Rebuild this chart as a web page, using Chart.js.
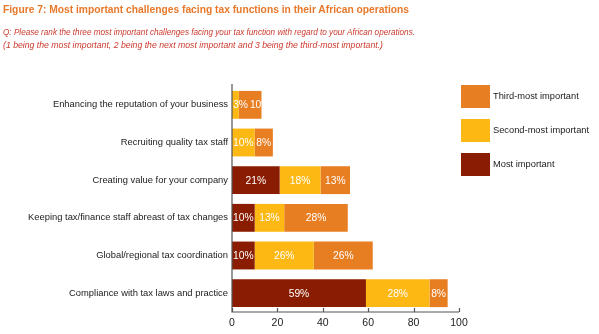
<!DOCTYPE html>
<html><head><meta charset="utf-8">
<script src="https://cdn.jsdelivr.net/npm/chart.js@4/dist/chart.umd.min.js"></script>
<style>
html,body{margin:0;padding:0;background:#fff;}
#wrap{position:relative;width:599px;height:334px;overflow:hidden;font-family:"Liberation Sans",Arial,sans-serif;}
#c{position:absolute;left:0;top:0;}
.title{position:absolute;left:3px;top:3px;font-size:11.5px;font-weight:bold;color:#E8782A;white-space:nowrap;transform-origin:0 0;}
.sub{position:absolute;left:3px;font-size:9.3px;font-style:italic;color:#CC3A2E;white-space:nowrap;transform-origin:0 0;}
.lg{position:absolute;left:461px;width:29px;height:23px;}
.lt{position:absolute;left:493px;font-size:9.3px;color:#222;white-space:nowrap;}
</style></head>
<body><div id="wrap">
<canvas id="c" width="599" height="334"></canvas>
<div class="title" id="t1">Figure 7: Most important challenges facing tax functions in their African operations</div>
<div class="sub" id="s1" style="top:27px">Q: Please rank the three most important challenges facing your tax function with regard to your African operations.</div>
<div class="sub" id="s2" style="top:40px">(1 being the most important, 2 being the next most important and 3 being the third-most important.)</div>
<div class="lg" style="top:85px;background:#E87E22"></div>
<div class="lt" style="top:91px">Third-most important</div>
<div class="lg" style="top:119px;background:#FDB813"></div>
<div class="lt" style="top:125px">Second-most important</div>
<div class="lg" style="top:153px;background:#8A1C02"></div>
<div class="lt" style="top:159px">Most important</div>
</div>
<script>
const categories = ["Enhancing the reputation of your business","Recruiting quality tax staff","Creating value for your company","Keeping tax/finance staff abreast of tax changes","Global/regional tax coordination","Compliance with tax laws and practice"];
const mostImportant = [0,0,21,10,10,59];
const secondMost = [3,10,18,13,26,28];
const thirdMost = [10,8,13,28,26,8];
const xTicks = [0,20,40,60,80,100];

function fitWidth(id, w){
  const el = document.getElementById(id);
  const cur = el.getBoundingClientRect().width;
  el.style.transform = 'scaleX(' + (w/cur) + ')';
}
fitWidth('t1', 406);
fitWidth('s1', 412);
fitWidth('s2', 380);

const labelPlugin = {
  id:'labels',
  afterDatasetsDraw(chart){
    const ctx = chart.ctx;
    ctx.save();
    ctx.font = '10.3px "Liberation Sans", Arial, sans-serif';
    ctx.fillStyle = '#fff';
    ctx.textAlign = 'center';
    ctx.textBaseline = 'middle';
    const lastRight = {};
    chart.data.datasets.forEach((ds,i)=>{
      const meta = chart.getDatasetMeta(i);
      meta.data.forEach((bar,j)=>{
        const v = ds.data[j];
        if(!v) return;
        const w = ctx.measureText(v+'%').width;
        let cx = (bar.x+bar.base)/2;
        let minLeft = chart.chartArea.left + 1;
        if (lastRight[j] !== undefined) minLeft = Math.max(minLeft, lastRight[j] + 2);
        if (cx - w/2 < minLeft) cx = minLeft + w/2;
        ctx.fillText(v+'%', cx, bar.y+0.5);
        lastRight[j] = cx + w/2;
      });
    });
    ctx.restore();
  }
};
const axisPlugin = {
  id:'axes',
  afterDraw(chart){
    const ctx = chart.ctx, a = chart.chartArea, xs = chart.scales.x;
    ctx.save();
    ctx.strokeStyle = '#555';
    ctx.lineWidth = 1.2;
    ctx.beginPath();
    ctx.moveTo(a.left, a.top-2); ctx.lineTo(a.left, a.bottom);
    ctx.lineTo(a.right, a.bottom);
    xTicks.forEach(t=>{
      const px = Math.round(xs.getPixelForValue(t))+0.5;
      ctx.moveTo(px, a.bottom); ctx.lineTo(px, a.bottom-4);
    });
    ctx.stroke();
    ctx.restore();
  }
};

new Chart(document.getElementById('c'), {
  type:'bar',
  data:{
    labels:categories,
    datasets:[
      {label:'Most important', data:mostImportant, backgroundColor:'#8A1C02'},
      {label:'Second-most important', data:secondMost, backgroundColor:'#FDB813'},
      {label:'Third-most important', data:thirdMost, backgroundColor:'#E87E22'}
    ]
  },
  options:{
    indexAxis:'y',
    responsive:false,
    animation:false,
    devicePixelRatio:1,
    layout:{padding:{top:86,right:140,left:0,bottom:0}},
    plugins:{legend:{display:false},tooltip:{enabled:false}},
    datasets:{bar:{categoryPercentage:0.74,barPercentage:1}},
    scales:{
      x:{
        stacked:true,min:0,max:100,
        afterBuildTicks(s){s.ticks = xTicks.map(v=>({value:v}));},
        afterFit(s){s.height=22;},
        grid:{display:false,drawTicks:false},
        border:{display:false},
        ticks:{color:'#222',font:{size:10.5,family:'"Liberation Sans", Arial, sans-serif'},padding:5,maxRotation:0}
      },
      y:{
        stacked:true,
        afterFit(s){s.width=232;},
        grid:{display:false,drawTicks:false},
        border:{display:false},
        ticks:{color:'#222',font:{size:9.4,family:'"Liberation Sans", Arial, sans-serif'},padding:4}
      }
    }
  },
  plugins:[labelPlugin,axisPlugin]
});
</script>
</body></html>
